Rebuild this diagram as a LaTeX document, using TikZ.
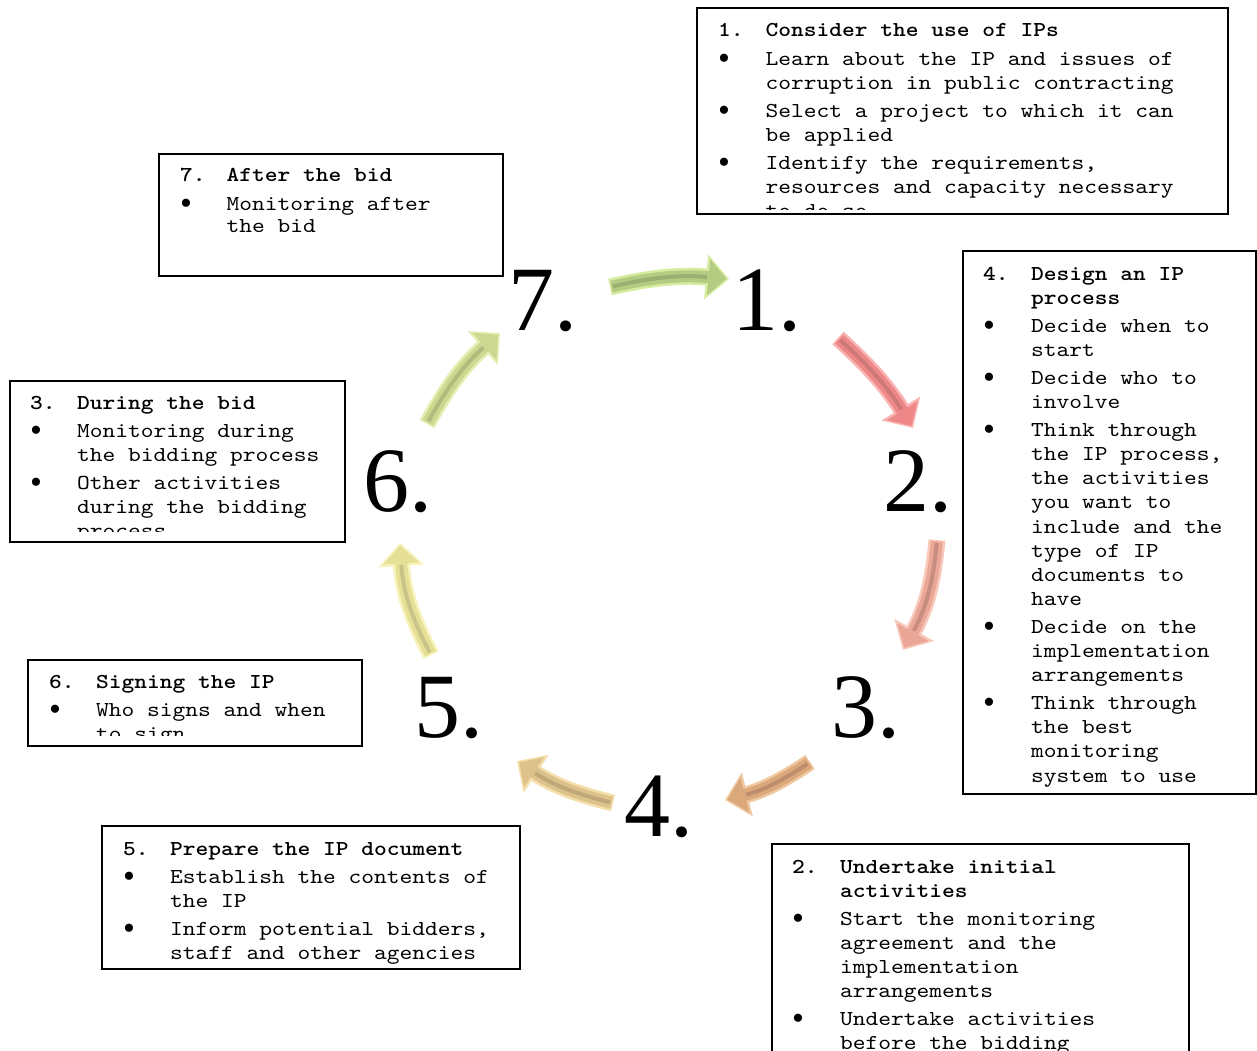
\documentclass[tikz,border=0pt]{standalone}
\usepackage{fontspec}
\setmainfont{lmmono10-regular.otf}[BoldFont=lmmonolt10-bold.otf, FakeStretch=1.143]
\newfontfamily\numfont{Liberation Serif}
\usepackage{array}
\usetikzlibrary{arrows.meta}

\definecolor{gL}{RGB}{214,236,160}
\definecolor{gB}{RGB}{180,204,130}
\definecolor{gD}{RGB}{152,176,112}
\definecolor{rL}{RGB}{250,180,180}
\definecolor{rB}{RGB}{238,136,136}
\definecolor{rD}{RGB}{206,120,120}
\definecolor{sL}{RGB}{248,200,186}
\definecolor{sB}{RGB}{234,166,150}
\definecolor{sD}{RGB}{200,140,128}
\definecolor{oL}{RGB}{240,200,160}
\definecolor{oB}{RGB}{218,168,122}
\definecolor{oD}{RGB}{188,142,108}
\definecolor{tL}{RGB}{244,222,170}
\definecolor{tB}{RGB}{222,194,140}
\definecolor{tD}{RGB}{192,168,120}
\definecolor{yL}{RGB}{246,242,184}
\definecolor{yB}{RGB}{230,224,150}
\definecolor{yD}{RGB}{200,196,136}
\definecolor{vL}{RGB}{228,238,176}
\definecolor{vB}{RGB}{204,216,144}
\definecolor{vD}{RGB}{176,188,124}

\newcommand{\cycarrow}[4]{%
  \draw[line width=17pt, color=#1L, -{Triangle[width=44pt,length=23pt]}] (#2) to[bend left=#4] (#3);
  \draw[line width=12pt, color=#1B, shorten >=2.5pt, shorten <=1.5pt, -{Triangle[width=35pt,length=18pt]}] (#2) to[bend left=#4] (#3);
  \draw[line width=4pt, color=#1D, shorten >=22pt, shorten <=3pt] (#2) to[bend left=#4] (#3);
}

\newcommand{\bl}{\raisebox{-4pt}{\numfont\fontsize{34}{24}\selectfont\textbullet}}

\tikzset{
  boxline/.style={draw=black, line width=1.6pt, inner sep=0pt, anchor=north west},
  boxtext/.style={anchor=base west, inner sep=0pt, font=\fontsize{21.25}{24.1}\selectfont},
  bignum/.style={anchor=base west, inner sep=0pt, font=\numfont\fontsize{92}{92}\selectfont},
}

\begin{document}
\begin{tikzpicture}[x=1pt, y=-1pt]
\useasboundingbox (0,0) rectangle (1257,1051);
\clip (0,0) rectangle (1257,1051);

% ---------- arrow end points ----------
\coordinate (a1s) at (610,287);  \coordinate (a1e) at (729,279);
\coordinate (a2s) at (838,338);  \coordinate (a2e) at (913,428);
\coordinate (a3s) at (937,540);  \coordinate (a3e) at (903,650);
\coordinate (a4s) at (810,762);  \coordinate (a4e) at (725,800);
\coordinate (a5s) at (613,803);  \coordinate (a5e) at (517,761);
\coordinate (a6s) at (431,655);  \coordinate (a6e) at (400,543);
\coordinate (a7s) at (427,424);  \coordinate (a7e) at (500,333);

\cycarrow{g}{a1s}{a1e}{9}
\cycarrow{r}{a2s}{a2e}{8}
\cycarrow{s}{a3s}{a3e}{12}
\cycarrow{o}{a4s}{a4e}{10}
\cycarrow{t}{a5s}{a5e}{10}
\cycarrow{y}{a6s}{a6e}{12}
\cycarrow{v}{a7s}{a7e}{10}

% ---------- big numbers ----------
\node[bignum] (n7) at (508,330) {7.};
\node[bignum] (n1) at (732,330) {1.};
\node[bignum] (n2) at (883,511) {2.};
\node[bignum] (n3) at (831,737) {3.};
\node[bignum] (n4) at (624,836) {4.};
\node[bignum] (n5) at (414,737) {5.};
\node[bignum] (n6) at (363,511) {6.};

% ---------- box 1 ----------
\node[boxline, minimum width=531pt, minimum height=206pt] (b1) at (696,7) {};
\begin{scope}
\clip (696,7) rectangle (1227,209);
\node[boxtext] (t1) at (718,37) {\begin{tabular}[t]{@{}p{47.5pt}@{}l@{}}
\textbf{1.} & \textbf{Consider the use of IPs}\\[4pt]
\bl & Learn about the IP and issues of\\
    & corruption in public contracting\\[4pt]
\bl & Select a project to which it can\\
    & be applied\\[4pt]
\bl & Identify the requirements,\\
    & resources and capacity necessary\\
    & to do so
\end{tabular}};
\end{scope}

% ---------- box 7 ----------
\node[boxline, minimum width=344pt, minimum height=122pt] (b7) at (158,153) {};
\node[boxtext] (t7) at (180,182) {\begin{tabular}[t]{@{}p{46.5pt}@{}l@{}}
\textbf{7.} & \textbf{After the bid}\\[4pt]
\bl & Monitoring after\\[-2pt]
    & the bid
\end{tabular}};

% ---------- box 4 ----------
\node[boxline, minimum width=293pt, minimum height=543pt] (b4) at (962,250) {};
\node[boxtext] (t4) at (983,280) {\begin{tabular}[t]{@{}p{48pt}@{}l@{}}
\textbf{4.} & \textbf{Design an IP}\\
    & \textbf{process}\\[4pt]
\bl & Decide when to\\
    & start\\[4pt]
\bl & Decide who to\\
    & involve\\[4pt]
\bl & Think through\\
    & the IP process,\\
    & the activities\\
    & you want to\\
    & include and the\\
    & type of IP\\
    & documents to\\
    & have\\[4pt]
\bl & Decide on the\\
    & implementation\\
    & arrangements\\[4pt]
\bl & Think through\\
    & the best\\
    & monitoring\\
    & system to use
\end{tabular}};

% ---------- box 3 ----------
\node[boxline, minimum width=335pt, minimum height=161pt] (b3) at (9,380) {};
\begin{scope}
\clip (9,380) rectangle (344,531);
\node[boxtext] (t3) at (30,409) {\begin{tabular}[t]{@{}p{47pt}@{}l@{}}
\textbf{3.} & \textbf{During the bid}\\[4pt]
\bl & Monitoring during\\
    & the bidding process\\[4pt]
\bl & Other activities\\
    & during the bidding\\
    & process
\end{tabular}};
\end{scope}

% ---------- box 6 ----------
\node[boxline, minimum width=334pt, minimum height=86pt] (b6) at (27,659) {};
\begin{scope}
\clip (27,659) rectangle (361,735);
\node[boxtext] (t6) at (49,688) {\begin{tabular}[t]{@{}p{47pt}@{}l@{}}
\textbf{6.} & \textbf{Signing the IP}\\[4pt]
\bl & Who signs and when\\
    & to sign
\end{tabular}};
\end{scope}

% ---------- box 5 ----------
\node[boxline, minimum width=418pt, minimum height=143pt] (b5) at (101,825) {};
\begin{scope}
\clip (101,825) rectangle (519,964);
\node[boxtext] (t5) at (123,855) {\begin{tabular}[t]{@{}p{47pt}@{}l@{}}
\textbf{5.} & \textbf{Prepare the IP document}\\[4pt]
\bl & Establish the contents of\\
    & the IP\\[4pt]
\bl & Inform potential bidders,\\
    & staff and other agencies
\end{tabular}};
\end{scope}

% ---------- box 2 ----------
\node[boxline, minimum width=417pt, minimum height=240pt] (b2) at (771,843) {};
\node[boxtext] (t2) at (792,873) {\begin{tabular}[t]{@{}p{48pt}@{}l@{}}
\textbf{2.} & \textbf{Undertake initial}\\
    & \textbf{activities}\\[4pt]
\bl & Start the monitoring\\
    & agreement and the\\
    & implementation\\
    & arrangements\\[4pt]
\bl & Undertake activities\\
    & before the bidding\\
    & process
\end{tabular}};

\end{tikzpicture}
\end{document}
